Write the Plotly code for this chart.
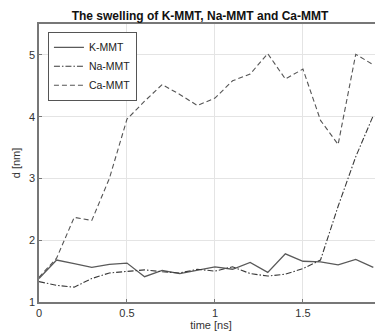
import plotly.graph_objects as go

time_ns = [0.0, 0.1, 0.2, 0.3, 0.4, 0.5, 0.6, 0.7, 0.8, 0.9,
           1.0, 1.1, 1.2, 1.3, 1.4, 1.5, 1.6, 1.7, 1.8, 1.9]
k_mmt = [1.38, 1.68, 1.62, 1.56, 1.61, 1.63, 1.41, 1.51, 1.46, 1.52,
         1.57, 1.53, 1.64, 1.48, 1.78, 1.66, 1.65, 1.60, 1.69, 1.56]
na_mmt = [1.33, 1.27, 1.24, 1.38, 1.47, 1.49, 1.52, 1.49, 1.47, 1.53,
          1.50, 1.57, 1.46, 1.42, 1.45, 1.54, 1.68, 2.55, 3.35, 4.02]
ca_mmt = [1.40, 1.71, 2.37, 2.32, 3.00, 3.96, 4.25, 4.52, 4.36, 4.18,
          4.30, 4.58, 4.69, 5.02, 4.61, 4.77, 3.94, 3.55, 5.01, 4.84]
series_names = ["K-MMT", "Na-MMT", "Ca-MMT"]
title_text = "The swelling of K-MMT, Na-MMT and Ca-MMT"
x_label = "time [ns]"
y_label = "d [nm]"

fig = go.Figure()
fig.add_trace(go.Scatter(x=time_ns, y=k_mmt, name=series_names[0], mode="lines",
                         line=dict(color="#5a5a5a", width=1.3, dash="solid")))
fig.add_trace(go.Scatter(x=time_ns, y=na_mmt, name=series_names[1], mode="lines",
                         line=dict(color="#3a3a3a", width=1.1, dash="6px,2px,1.5px,2px")))
fig.add_trace(go.Scatter(x=time_ns, y=ca_mmt, name=series_names[2], mode="lines",
                         line=dict(color="#555555", width=1.1, dash="5px,3px")))

FONT = "Liberation Sans, Arial, sans-serif"
axis_font = dict(family=FONT, size=11, color="#333333")

# page body has an 8px margin, so the figure is 8px smaller than the window
W, H = 375, 325
fig.update_layout(
    width=W, height=H,
    margin=dict(l=31, r=0, t=16, b=31),
    paper_bgcolor="white", plot_bgcolor="white",
    title=dict(text="<b>" + title_text + "</b>", x=0.512, xanchor="center",
               y=1 - 7.5 / H, yanchor="middle",
               font=dict(family=FONT, size=12, color="#111111")),
    showlegend=True,
    legend=dict(x=0.026, y=0.972, xanchor="left", yanchor="top",
                bgcolor="white", bordercolor="#555555", borderwidth=1,
                font=dict(family=FONT, size=10.5, color="#222222"),
                tracegroupgap=0, itemwidth=30),
    font=axis_font,
)
fig.update_xaxes(range=[0, 1.955], tickvals=[0, 0.5, 1, 1.5], ticktext=["0", "0.5", "1", "1.5"],
                 showgrid=True, gridcolor="#e4e4e4", gridwidth=1,
                 showline=True, linecolor="#777777", linewidth=1.5, mirror=True,
                 ticks="inside", ticklen=3, tickcolor="#777777",
                 zeroline=False, tickfont=axis_font, automargin=False,
                 title=dict(text=x_label, font=axis_font, standoff=3))
fig.update_yaxes(range=[1, 5.5], tickvals=[1, 2, 3, 4, 5],
                 showgrid=True, gridcolor="#e4e4e4", gridwidth=1,
                 showline=True, linecolor="#777777", linewidth=1.5, mirror=True,
                 ticks="inside", ticklen=3, tickcolor="#777777",
                 zeroline=False, tickfont=axis_font, automargin=False,
                 title=dict(text=y_label, font=axis_font, standoff=6))

fig.write_html("out.html")
